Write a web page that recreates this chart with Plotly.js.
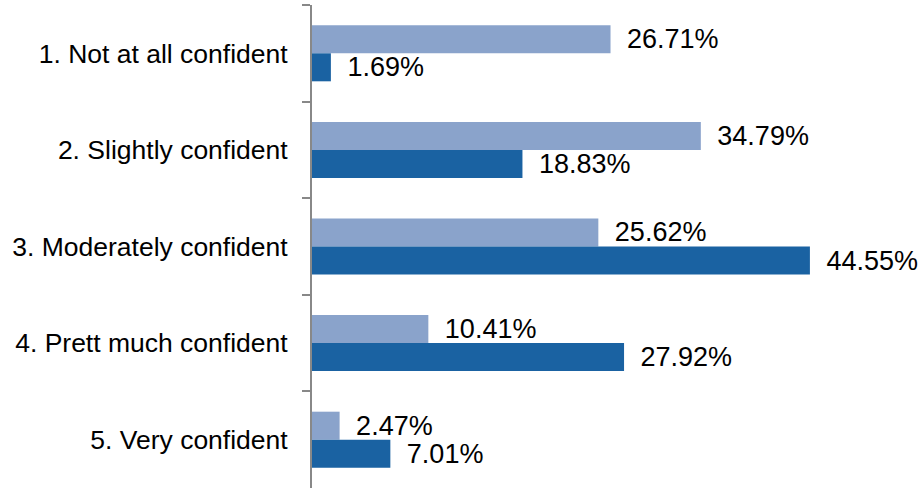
<!DOCTYPE html>
<html>
<head>
<meta charset="utf-8">
<script src="https://cdn.plot.ly/plotly-3.0.1.min.js"></script>
<style>html,body{margin:0;padding:0;background:#fff;}#chart{width:920px;height:488px;}</style>
</head>
<body>
<div id="chart"></div>
<script>
const categories = [
  "1. Not at all confident",
  "2. Slightly confident",
  "3. Moderately confident",
  "4. Prett much confident",
  "5. Very confident"
];
const seriesLight = [26.71, 34.79, 25.62, 10.41, 2.47];
const seriesDark = [1.69, 18.83, 44.55, 27.92, 7.01];

const labelFont = {family: "Liberation Sans, Arial, sans-serif", size: 27, color: "#000"};

function barTrace(vals, color) {
  return {
    type: "bar",
    orientation: "h",
    y: categories,
    x: vals,
    marker: {color: color},
    text: vals.map(v => "\u2002" + v.toFixed(2) + "%"),
    textposition: "outside",
    constraintext: "none",
    textfont: labelFont,
    cliponaxis: false,
    hoverinfo: "none"
  };
}

const data = [barTrace(seriesLight, "#8AA3CB"), barTrace(seriesDark, "#1A62A2")];

const layout = {
  width: 920,
  height: 488,
  margin: {l: 312, r: 0, t: 5, b: 0},
  showlegend: false,
  barmode: "group",
  bargap: 0.42,
  bargroupgap: 0,
  paper_bgcolor: "#fff",
  plot_bgcolor: "#fff",
  xaxis: {
    range: [0, 54.4],
    visible: false,
    showgrid: false,
    zeroline: false
  },
  yaxis: {
    type: "category",
    autorange: "reversed",
    showline: true,
    linecolor: "#888",
    linewidth: 2,
    ticks: "outside",
    tickson: "boundaries",
    ticklen: 8,
    tickwidth: 2,
    tickcolor: "#888",
    ticklabelstandoff: 17,
    tickfont: {family: "Liberation Sans, Arial, sans-serif", size: 26.5, color: "#000"},
    showgrid: false,
    zeroline: false
  }
};

Plotly.newPlot("chart", data, layout, {displayModeBar: false, staticPlot: true});
</script>
</body>
</html>
